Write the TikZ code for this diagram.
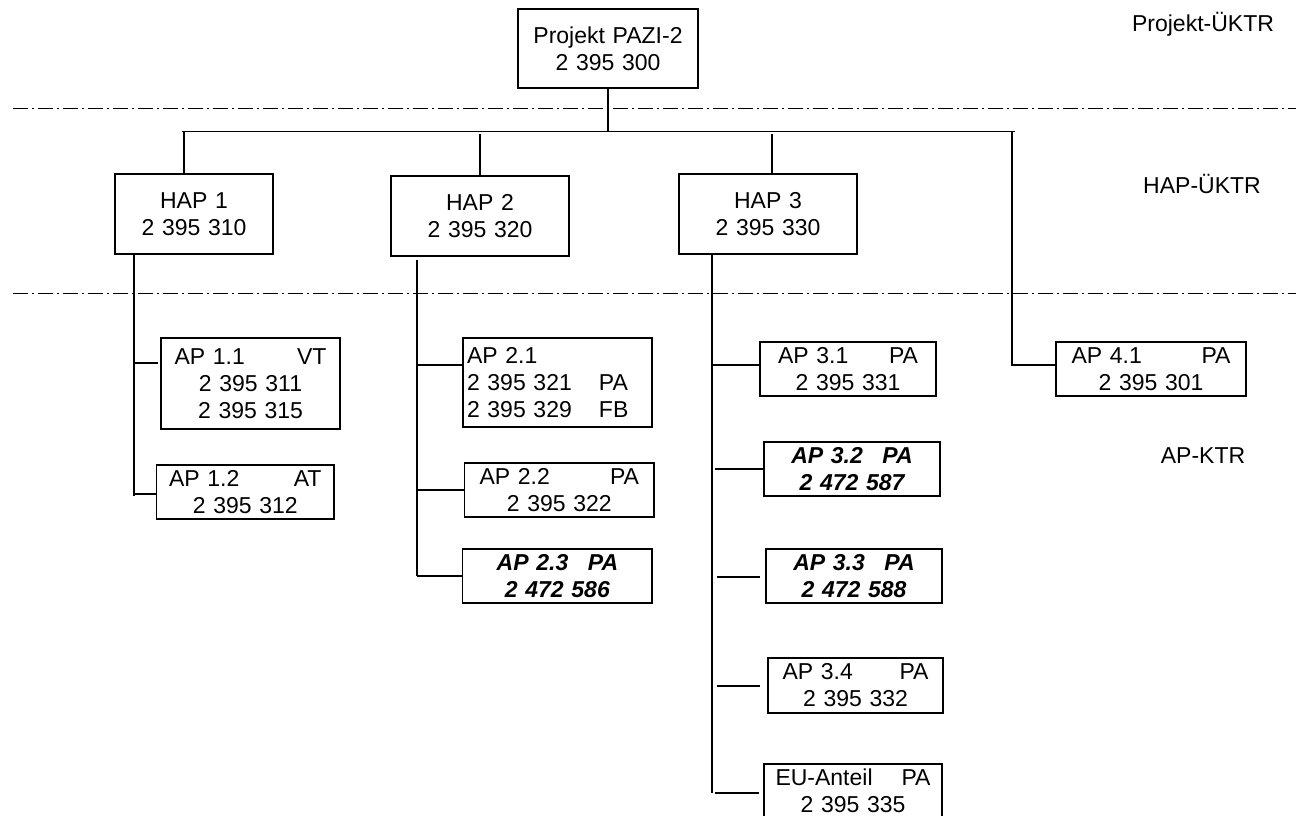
\documentclass[tikz,border=0pt]{standalone}
\usepackage{fontspec}
\setmainfont{Liberation Sans}
\begin{document}
\begin{tikzpicture}[x=1pt,y=-1pt,
  every node/.style={font=\fontsize{23}{27}\selectfont},
  box/.style={draw, line width=1.3pt, inner ysep=0pt, align=center},
  lbl/.style={inner sep=0pt, anchor=base},
  conn/.style={line width=1.3pt},
  sep/.style={line width=1pt, dash pattern=on 15pt off 4pt on 2pt off 4pt}]
\useasboundingbox (0,0) rectangle (1301,816);
\clip (0,0) rectangle (1301,816);
\newcommand\lr[2]{\makebox[\hsize]{#1\hfill #2}}
\newcommand\bi{\bfseries\itshape}

% separators
\coordinate (s1l) at (13,108.3); \coordinate (s1r) at (1296,108.3);
\coordinate (s2l) at (13,293.3); \coordinate (s2r) at (1296,293.3);
\draw[sep] (s1l) -- (s1r);
\draw[sep] (s2l) -- (s2r);

% level labels
\node[lbl] (lp) at (1203,32) {Projekt-ÜKTR};
\node[lbl] (lh) at (1202,193) {HAP-ÜKTR};
\node[lbl] (la) at (1203,463) {AP-KTR};

% boxes
\node[box, minimum height=79pt, text width=172pt, inner xsep=4pt] (proj) at (608,48.5) {\fontsize{23}{27}\selectfont Projekt PAZI-2\\2 395 300};
\node[box, minimum height=80pt, text width=150pt, inner xsep=4pt] (hap1) at (194,214) {\fontsize{23}{28}\selectfont HAP 1\\2 395 310};
\node[box, minimum height=80pt, text width=170pt, inner xsep=4pt] (hap2) at (480,216) {\fontsize{23}{28}\selectfont HAP 2\\2 395 320};
\node[box, minimum height=80pt, text width=170pt, inner xsep=4pt] (hap3) at (768,214) {\fontsize{23}{28}\selectfont HAP 3\\2 395 330};

\node[box, minimum height=91pt, text width=152pt, inner xsep=13.5pt] (ap11) at (250.5,383.5) {\lr{AP 1.1}{VT}\\2 395 311\\2 395 315};
\node[box, minimum height=54pt, text width=152.5pt, inner xsep=12.5pt] (ap12) at (245.25,492) {\lr{AP 1.2}{AT}\\2 395 312};

\node[box, minimum height=89pt, text width=181pt, inner xsep=4pt, align=left] (ap21) at (557.5,382.5) {AP 2.1\\\makebox[132pt][l]{2 395 321}PA\\\makebox[132pt][l]{2 395 329}FB};
\node[box, minimum height=54pt, text width=159.4pt, inner xsep=15pt] (ap22) at (559.3,490) {\lr{AP 2.2}{PA}\\2 395 322};
\node[box, minimum height=54pt, text width=181.3pt, inner xsep=4pt] (ap23) at (557.4,576) {\bi AP 2.3\hspace{0.85em}PA\\\bi 2 472 586};

\node[box, minimum height=54pt, text width=140pt, inner xsep=18pt] (ap31) at (848,369) {\lr{AP 3.1}{PA}\\2 395 331};
\node[box, minimum height=54pt, text width=168pt, inner xsep=4pt] (ap32) at (852,469) {\bi AP 3.2\hspace{0.85em}PA\\\bi 2 472 587};
\node[box, minimum height=54pt, text width=168pt, inner xsep=4pt] (ap33) at (854,576) {\bi AP 3.3\hspace{0.85em}PA\\\bi 2 472 588};
\node[box, minimum height=55pt, text width=146pt, inner xsep=14.5pt] (ap34) at (855.5,685.5) {\lr{AP 3.4}{PA}\\2 395 332};
\node[box, minimum height=54pt, text width=155pt, inner xsep=11.5pt] (apeu) at (853,791) {\lr{EU-Anteil}{PA}\\2 395 335};

\node[box, minimum height=54pt, text width=159pt, inner xsep=15.5pt] (ap41) at (1151,369) {\lr{AP 4.1}{PA}\\2 395 301};

% top level connectors
\coordinate (busL) at (182,131.7);
\coordinate (busR) at (1015,131.7);
\draw[conn] (proj.south) -- (proj.south |- busL);
\draw[conn] (busL) -- (busR);
\coordinate (d1) at (184,131.7);
\coordinate (d2) at (480,134);
\coordinate (d3) at (772,134);
\coordinate (d4) at (1012,131.7);
\draw[conn] (d1) -- (d1 |- hap1.north);
\draw[conn] (d2) -- (d2 |- hap2.north);
\draw[conn] (d3) -- (d3 |- hap3.north);
\coordinate (c41) at (1012,365);
\draw[conn] (d4) -- (c41) -- (c41 -| ap41.west);

% HAP 1 branch
\coordinate (v1) at (134,496);
\coordinate (b11) at (134,363);
\coordinate (b12) at (134,494);
\draw[conn] (v1 |- hap1.south) -- (v1);
\draw[conn] (b11) -- ([xshift=-2pt]b11 -| ap11.west);
\draw[conn] (b12) -- (b12 -| ap12.west);

% HAP 2 branch
\coordinate (v2t) at (417,260);
\coordinate (v2) at (417,576);
\coordinate (b21) at (416,365);
\coordinate (b22) at (418,490);
\coordinate (b23) at (417,576);
\draw[conn] (v2t) -- (v2);
\draw[conn] (b21) -- (b21 -| ap21.west);
\draw[conn] (b22) -- (b22 -| ap22.west);
\draw[conn] (b23) -- (b23 -| ap23.west);

% HAP 3 branch
\coordinate (v3) at (712,793);
\coordinate (b31) at (712,365);
\coordinate (b32) at (715,469);
\coordinate (b33) at (717,577);
\coordinate (b34) at (717,686);
\coordinate (b3e) at (715,793);
\draw[conn] (v3 |- hap3.south) -- (v3);
\draw[conn] (b31) -- (b31 -| ap31.west);
\draw[conn] (b32) -- (b32 -| ap32.west);
\draw[conn] (b33) -- ([xshift=-5pt]b33 -| ap33.west);
\draw[conn] (b34) -- ([xshift=-7pt]b34 -| ap34.west);
\draw[conn] (b3e) -- ([xshift=-4pt]b3e -| apeu.west);
\end{tikzpicture}
\end{document}
